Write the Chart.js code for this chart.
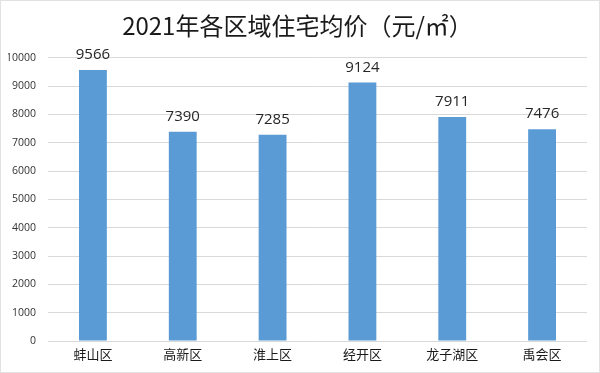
<!DOCTYPE html>
<html>
<head>
<meta charset="utf-8">
<script src="https://cdn.jsdelivr.net/npm/chart.js@4"></script>
<style>
  html, body { margin: 0; padding: 0; background: #fff; }
  #wrap { width: 598px; height: 371px; border: 1px solid #e2e2e2; }
</style>
</head>
<body>
<div id="wrap"><canvas id="myChart" width="598" height="371"></canvas></div>
<script>
const labels = ['蚌山区', '高新区', '淮上区', '经开区', '龙子湖区', '禹会区'];
const prices = [9566, 7390, 7285, 9124, 7911, 7476];
const yTicks = [0, 1000, 2000, 3000, 4000, 5000, 6000, 7000, 8000, 9000, 10000];

// numbers above the bars
const valueLabels = {
  id: 'valueLabels',
  afterDatasetsDraw(chart) {
    const ctx = chart.ctx;
    const meta = chart.getDatasetMeta(0);
    ctx.save();
    ctx.font = '15px "Open Sans", sans-serif';
    ctx.fillStyle = '#262626';
    ctx.textAlign = 'center';
    ctx.textBaseline = 'alphabetic';
    meta.data.forEach((bar, i) => {
      ctx.fillText(prices[i], bar.x, bar.y - 11);
    });
    ctx.restore();
  }
};

const config = {
  type: 'bar',
  data: {
    labels: labels,
    datasets: [{
      data: prices,
      backgroundColor: '#5b9bd5',
      barPercentage: 0.31,
      categoryPercentage: 1
    }]
  },
  options: {
    responsive: false,
    animation: false,
    layout: { padding: { left: 7, right: 12, top: 0, bottom: 9 } },
    plugins: {
      legend: { display: false },
      tooltip: { enabled: false },
      title: {
        display: true,
        text: '2021年各区域住宅均价（元/㎡）',
        color: '#1a1a1a',
        font: { size: 24, family: '"Noto Sans CJK SC", sans-serif', weight: 'normal' },
        padding: { top: 10, bottom: 18 }
      }
    },
    scales: {
      x: {
        afterFit(axis) { axis.height = 22; },
        grid: { display: false, drawTicks: false },
        border: { display: false },
        ticks: {
          color: '#1a1a1a',
          font: { size: 13, family: '"Noto Sans CJK SC", sans-serif' },
          padding: 5
        }
      },
      y: {
        min: 0,
        max: 10000,
        afterBuildTicks(axis) { axis.ticks = yTicks.map(v => ({ value: v })); },
        afterFit(axis) { axis.width = 40; },
        grid: { color: '#d9d9d9', drawTicks: false },
        border: { display: false },
        ticks: {
          color: '#333333',
          font: { size: 10.5, family: '"Open Sans", sans-serif' },
          padding: 12,
          callback: v => String(v)
        }
      }
    }
  },
  plugins: [valueLabels]
};

const myChart = new Chart(document.getElementById('myChart'), config);
</script>
</body>
</html>
